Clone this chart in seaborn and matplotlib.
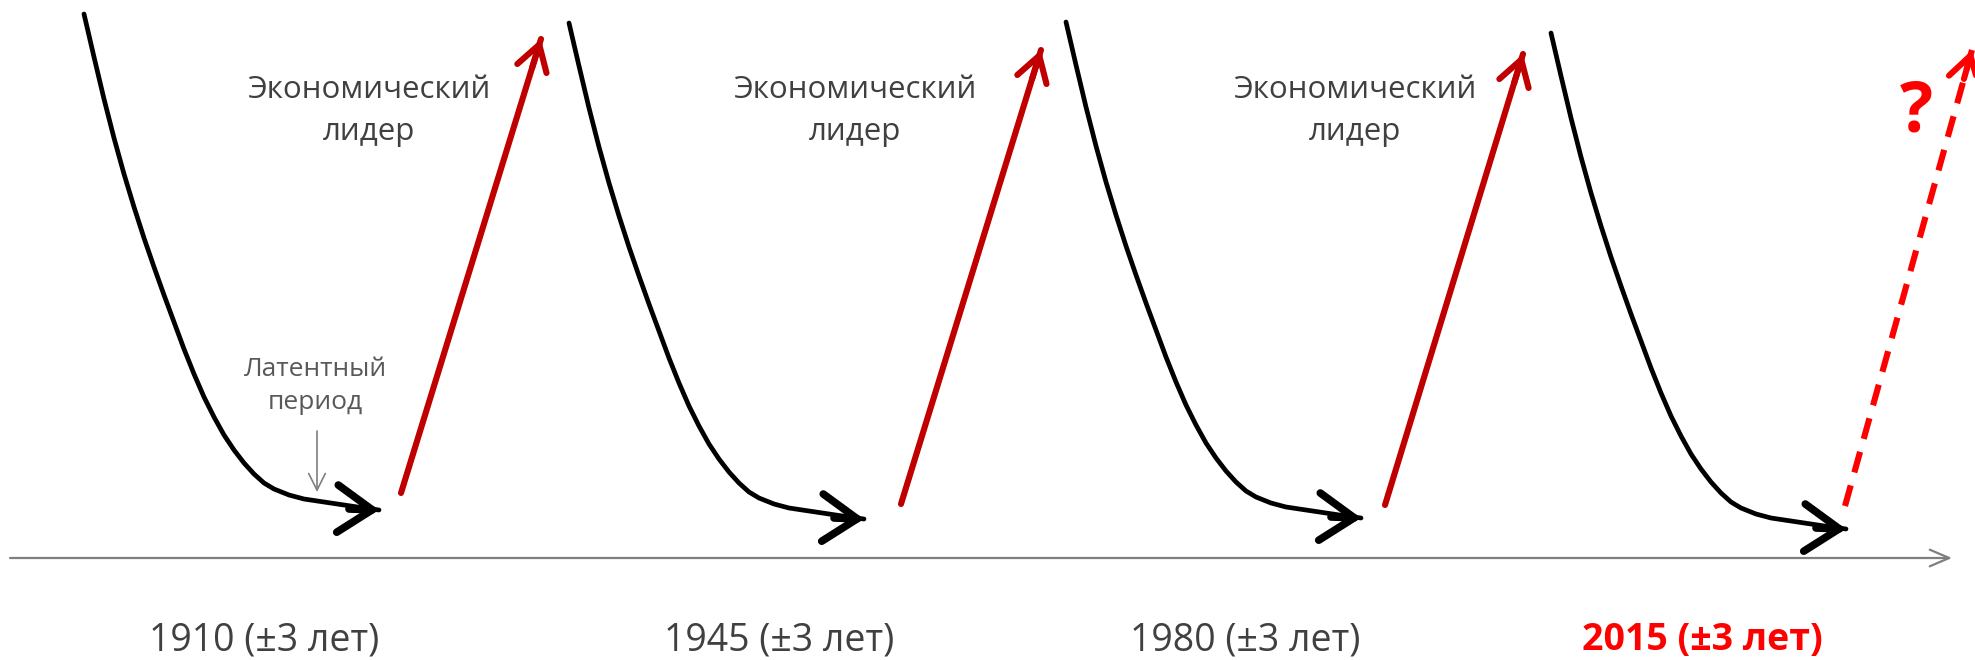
import numpy as np
import pandas as pd
import matplotlib
matplotlib.use('Agg')
import matplotlib.pyplot as plt
import seaborn as sns

# --- data (picture coordinates, y grows downward) ---
period_labels = ["1910 (±3 лет)", "1945 (±3 лет)", "1980 (±3 лет)", "2015 (±3 лет)"]
label_x = [264, 779, 1245, 1702]

# start point of each decline curve
decline_x0 = [84, 569, 1066, 1551]
decline_y0 = [14, 23, 22, 33]

# shape of one decline (offsets from the start point)
profile_dx = [0, 10, 20, 30, 40, 50, 60, 70, 80, 90, 100, 110, 120, 130, 140,
              150, 160, 170, 180, 190, 205, 220, 240, 260, 280, 295]
profile_dy = [0, 43, 85, 124, 160, 193, 224, 253, 281, 308, 335, 360, 383, 403, 421,
              436, 449, 460, 469, 475, 481, 485, 488, 491, 494, 496]

# growth arrows (start -> tip)
rise_x0 = [401, 901, 1385, 1845]
rise_y0 = [493, 504, 505, 506]
rise_x1 = [541, 1041, 1523, 1972]
rise_y1 = [39, 50, 54, 50]
rise_dashed = [False, False, False, True]

leader_x = [369, 855, 1355]

sns.set_theme(style="white")
plt.rcParams['font.family'] = ['Open Sans', 'DejaVu Sans']

fig = plt.figure(figsize=(19.75, 6.6), dpi=100)
ax = fig.add_axes([0, 0, 1, 1])
ax.set_xlim(0, 1975)
ax.set_ylim(660, 0)
ax.axis('off')

# time axis
ax.annotate("", xy=(1952, 558), xytext=(10, 558),
            arrowprops=dict(arrowstyle="->, head_length=14, head_width=6",
                            color="#7f7f7f", lw=1.6, mutation_scale=1,
                            shrinkA=0, shrinkB=0))

# decline curves
rows = []
for i, (x0, y0) in enumerate(zip(decline_x0, decline_y0)):
    for dx, dy in zip(profile_dx, profile_dy):
        rows.append({"cycle": i, "x": x0 + dx, "y": y0 + dy})
curves = pd.DataFrame(rows)
sns.lineplot(data=curves, x="x", y="y", units="cycle", estimator=None,
             sort=False, color="black", lw=3.4, ax=ax, legend=False)

for x0, y0 in zip(decline_x0, decline_y0):
    tip = (x0 + profile_dx[-1], y0 + profile_dy[-1])
    back = (tip[0] - 30, tip[1] - 1)
    ax.annotate("", xy=tip, xytext=back,
                arrowprops=dict(arrowstyle="->, head_length=25, head_width=17",
                                color="black", lw=5.5, mutation_scale=1,
                                shrinkA=0, shrinkB=0, joinstyle="miter",
                                capstyle="round"))

# growth arrows
for xa, ya, xb, yb, dashed in zip(rise_x0, rise_y0, rise_x1, rise_y1, rise_dashed):
    col = "#ff0000" if dashed else "#c00000"
    seg = pd.DataFrame({"x": [xa, xb], "y": [ya, yb]})
    sns.lineplot(data=seg, x="x", y="y", sort=False, color=col, lw=4.4,
                 ls=(0, (3.5, 2.2)) if dashed else "-", ax=ax)
    ux, uy = xb - xa, yb - ya
    n = np.hypot(ux, uy)
    ax.annotate("", xy=(xb, yb), xytext=(xb - ux / n * 30, yb - uy / n * 30),
                arrowprops=dict(arrowstyle="->, head_length=18, head_width=11",
                                color=col, lw=4.4, mutation_scale=1,
                                shrinkA=0, shrinkB=0))

# labels
for x in leader_x:
    ax.text(x, 111, "Экономический\nлидер", ha="center", va="center",
            fontsize=22.5, color="#404040", linespacing=1.55)

ax.text(315, 386, "Латентный\nпериод", ha="center", va="center",
        fontsize=19, color="#595959", linespacing=1.45)
ax.annotate("", xy=(317, 492), xytext=(317, 431),
            arrowprops=dict(arrowstyle="->, head_length=12, head_width=6",
                            color="#7f7f7f", lw=1.2, mutation_scale=1,
                            shrinkA=0, shrinkB=0))

ax.text(1916, 113, "?", ha="center", va="center", fontsize=50,
        fontweight="bold", color="#ff0000")

for i, (lab, x) in enumerate(zip(period_labels, label_x)):
    last = i == len(period_labels) - 1
    ax.text(x, 640, lab, ha="center", va="center", fontsize=27,
            color="#ff0000" if last else "#404040",
            fontweight="bold" if last else "normal")

plt.savefig("out.png", dpi=100)
plt.close()
